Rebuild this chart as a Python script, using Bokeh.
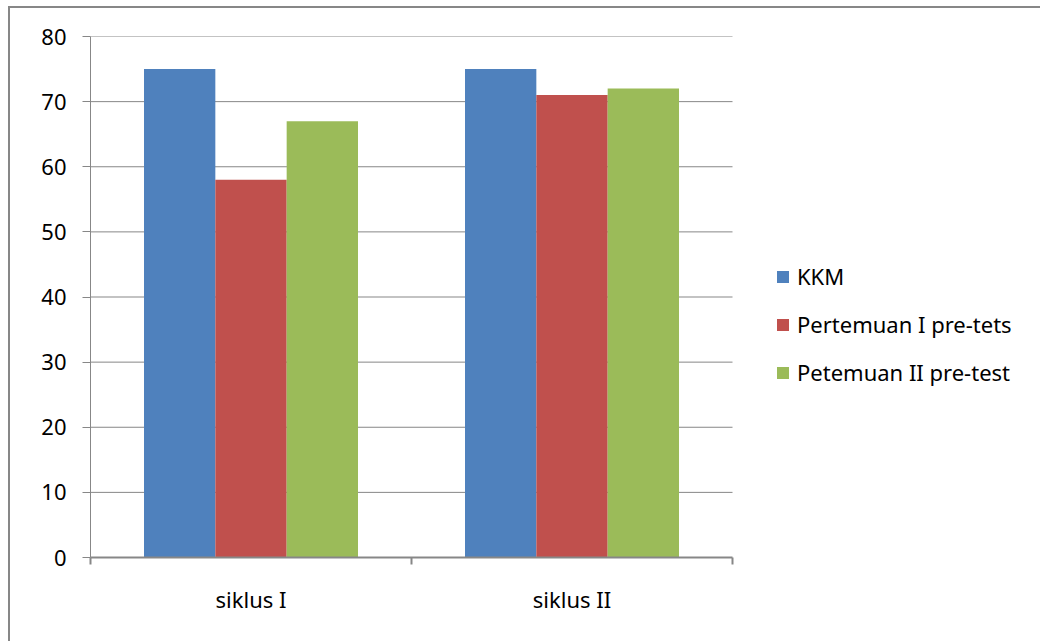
from bokeh.plotting import figure
from bokeh.models import (Range1d, FixedTicker, Legend, LegendItem, ColumnDataSource)
from bokeh.transform import dodge
from bokeh.embed import file_html
from bokeh.resources import INLINE

categories = ["siklus I", "siklus II"]
series_names = ["KKM", "Pertemuan I pre-tets", "Petemuan II pre-test"]
kkm = [75, 75]
pertemuan1 = [58, 71]
petemuan2 = [67, 72]
y_ticks = [0, 10, 20, 30, 40, 50, 60, 70, 80]

colors = ["#4F81BD", "#C0504D", "#9BBB59"]
FONT = "Noto Sans"
GRAY = "#878787"

n = len(categories)
xpos = [i + 0.5 for i in range(n)]
src = ColumnDataSource(dict(x=xpos, kkm=kkm, p1=pertemuan1, p2=petemuan2))

W, H = 1032, 635
LEFT, TOP, BOTTOM = 82, 30, 84
PLOT_W = 642  # width of the category area in px
frame_w = W - LEFT
x_end = n * frame_w / PLOT_W

p = figure(width=W, height=H, output_backend="svg", toolbar_location=None,
           x_range=Range1d(0, x_end), y_range=Range1d(0, 80),
           min_border_left=LEFT, min_border_right=0, min_border_top=TOP, min_border_bottom=BOTTOM)
p.margin = (6, 0, 0, 8)
p.styles = {"box-shadow": "inset 2px 2px 0 0 #878787"}
p.border_fill_color = None
p.background_fill_color = None
p.outline_line_color = None

# horizontal gridlines limited to the category area
grid_y = [t for t in y_ticks if t > 0]
p.segment(x0=[0] * len(grid_y), x1=[n] * len(grid_y), y0=grid_y, y1=grid_y,
          line_color=GRAY, line_width=1, level="underlay")

bw = 2 / 9
fields = ["kkm", "p1", "p2"]
renderers = []
for j, (f, c) in enumerate(zip(fields, colors)):
    r = p.vbar(x=dodge("x", (j - 1) * bw, range=p.x_range), top=f, width=bw, source=src,
               fill_color=c, line_color=None)
    renderers.append(r)

# y axis
yax = p.yaxis[0]
yax.ticker = FixedTicker(ticks=y_ticks)
yax.axis_line_color = GRAY
yax.major_tick_line_color = GRAY
yax.major_tick_in = 0
yax.major_tick_out = 8
yax.minor_tick_line_color = None
yax.major_label_text_font = FONT
yax.major_label_text_font_size = "22px"
yax.major_label_text_color = "#000000"
yax.major_label_standoff = 16

xax = p.xaxis[0]
xax.bounds = (0, n)
xax.ticker = FixedTicker(ticks=xpos, minor_ticks=list(range(n + 1)))
xax.major_label_overrides = {x: c for x, c in zip(xpos, categories)}
xax.axis_line_color = GRAY
xax.axis_line_width = 2
xax.major_tick_line_color = None
xax.minor_tick_line_color = GRAY
xax.minor_tick_line_width = 2
xax.minor_tick_in = 0
xax.minor_tick_out = 7
xax.major_label_text_font = FONT
xax.major_label_text_font_size = "22px"
xax.major_label_text_color = "#000000"
xax.major_label_standoff = 19

p.xgrid.grid_line_color = None
p.ygrid.grid_line_color = None

legend = Legend(items=[LegendItem(label=s, renderers=[r]) for s, r in zip(series_names, renderers)],
                location=(685, 170))
legend.glyph_width = 15
legend.glyph_height = 15
legend.label_standoff = 7
legend.label_text_font = FONT
legend.label_text_font_size = "22px"
legend.label_text_color = "#000000"
legend.spacing = 18
legend.padding = 0
legend.margin = 0
legend.border_line_color = None
legend.background_fill_color = None
p.add_layout(legend, "center")

open("out.html", "w").write(file_html(p, INLINE))
